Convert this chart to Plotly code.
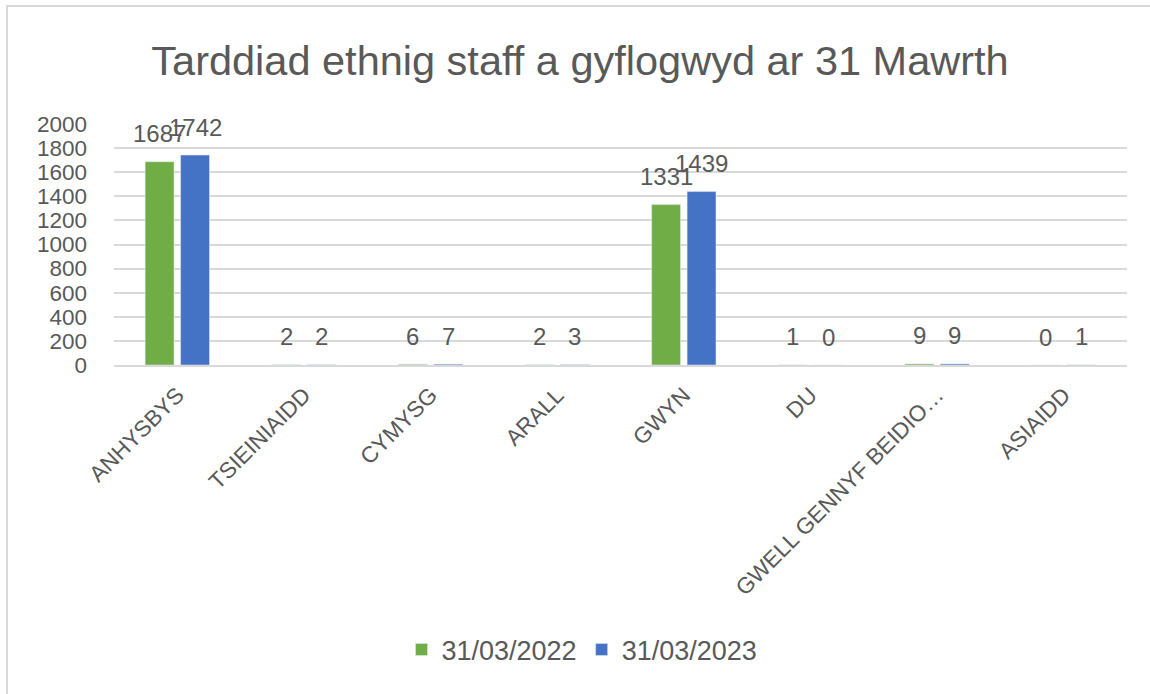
import plotly.graph_objects as go

categories = ["ANHYSBYS", "TSIEINIAIDD", "CYMYSG", "ARALL", "GWYN", "DU",
              "GWELL GENNYF BEIDIO…", "ASIAIDD"]
series_2022 = [1687, 2, 6, 2, 1331, 1, 9, 0]
series_2023 = [1742, 2, 7, 3, 1439, 0, 9, 1]
series_names = ["31/03/2022", "31/03/2023"]
series_colors = ["#70AD47", "#4472C4"]
y_ticks = [0, 200, 400, 600, 800, 1000, 1200, 1400, 1600, 1800, 2000]

FONT = "Liberation Sans, Arial, sans-serif"
GREY = "#595959"

# layout geometry (pixels)
L, R, T, B = 114, 23, 124, 329
W, H = 1150, 694
plot_w = W - L - R
plot_h = H - T - B
BARGAP, GROUPGAP = 0.44, 0.185
slot = plot_w / len(categories) * (1 - BARGAP) / 2

fig = go.Figure()
for name, vals, col in zip(series_names, [series_2022, series_2023], series_colors):
    fig.add_trace(go.Bar(x=categories, y=vals, name=name, marker_color=col))

# data labels, placed above each bar like the spreadsheet labels
for i, vals in enumerate([series_2022, series_2023]):
    dx = (i - 0.5) * slot
    for c, v in zip(categories, vals):
        fig.add_annotation(x=c, y=v, xref="x", yref="y", text=str(v),
                           showarrow=False, xshift=dx, yshift=28,
                           yanchor="middle", xanchor="center",
                           font=dict(size=24, color=GREY, family=FONT))

fig.update_layout(
    width=W, height=H,
    paper_bgcolor="white", plot_bgcolor="white",
    margin=dict(l=L, r=R, t=T, b=B, autoexpand=False),
    barmode="group", bargap=BARGAP, bargroupgap=GROUPGAP,
    title=dict(text="Tarddiad ethnig staff a gyflogwyd ar 31 Mawrth",
               x=(580 / W), xanchor="center", y=1 - 60 / H, yanchor="middle",
               font=dict(size=41.5, color=GREY, family=FONT)),
    legend=dict(orientation="h", x=(582 - L) / plot_w, xanchor="center",
                y=-(650 - (T + plot_h)) / plot_h, yanchor="middle",
                font=dict(size=27, color=GREY, family=FONT),
                itemwidth=30, traceorder="normal"),
    showlegend=True,
)
fig.update_yaxes(range=[0, 2000], tickvals=y_ticks, showgrid=True,
                 gridcolor="#D9D9D9", gridwidth=2, zeroline=False,
                 tickfont=dict(size=22.5, color=GREY, family=FONT),
                 ticklabelstandoff=26, showline=False, automargin=False)
fig.update_xaxes(tickangle=-45, tickfont=dict(size=22.5, color=GREY, family=FONT),
                 showline=True, linecolor="#D9D9D9", linewidth=2,
                 automargin=False, ticklabelstandoff=6)
# outer chart border (left and top visible)
fig.add_shape(type="rect", xref="paper", yref="paper",
              x0=(7 - L) / plot_w, x1=(W + 20 - L) / plot_w,
              y0=-(H + 20 - T - plot_h) / plot_h, y1=(T + plot_h - 6) / plot_h,
              line=dict(color="#D9D9D9", width=2), fillcolor="rgba(0,0,0,0)")

fig.write_html("out.html", config={"displayModeBar": False},
               post_script="document.body.style.margin='0';document.body.style.padding='0';")
